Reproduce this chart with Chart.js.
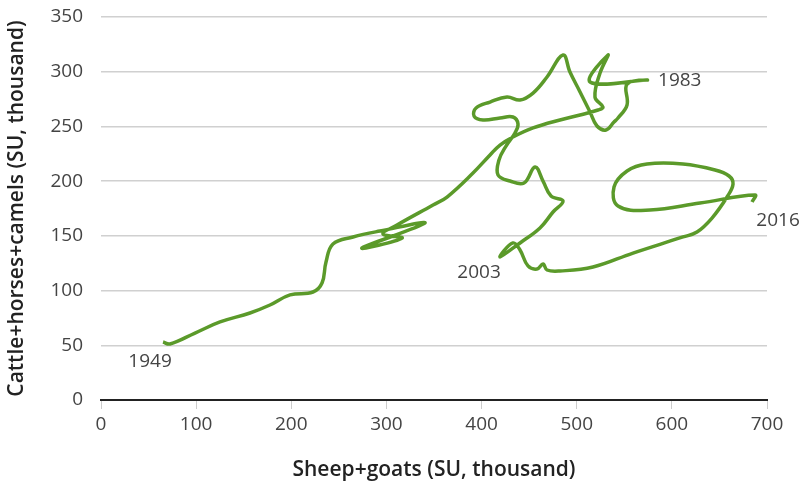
<!DOCTYPE html>
<html>
<head>
<meta charset="utf-8">
<script src="https://cdn.jsdelivr.net/npm/chart.js@4"></script>
<style>
  html, body { margin: 0; padding: 0; background: #fff; }
  #wrap { width: 803px; height: 491px; }
</style>
</head>
<body>
<div id="wrap"><canvas id="chart"></canvas></div>
<script>
// Livestock trajectory, 1949 -> 2016
const sheepGoats = [
  65.2, 72.5, 98.8, 125.1, 156.6, 177.6, 198.7, 222.8, 232.3, 236.5,
  243.8, 264.9, 293.2, 340.5, 274.3, 316.4, 296.4, 311.1, 349.0, 363.7,
  391.0, 408.9, 419.4, 433.0, 454.1, 482.4, 503.5, 522.4, 527.6, 519.2,
  524.5, 532.9, 514.0, 573.9, 552.9, 552.9, 543.4, 539.2, 530.8, 521.3,
  514.0, 503.5, 492.9, 485.6, 468.8, 454.1, 440.4, 426.7, 408.9, 394.2,
  392.1, 401.5, 419.4, 433.0, 438.3, 435.1, 425.7, 418.3, 417.3, 429.9,
  444.6, 456.2, 464.6, 473.0, 485.6, 475.1, 461.4, 440.4, 419.4, 433.0,
  440.4, 448.8, 458.3, 464.6, 468.8, 482.4, 517.1, 559.2, 611.7, 626.4,
  642.2, 658.0, 664.3, 660.1, 645.4, 611.7, 573.9, 552.9, 539.2, 543.4,
  577.0, 629.6, 687.4, 684.3
];
const cattleEtc = [
  53.0, 51.2, 61.2, 71.3, 79.5, 86.8, 96.0, 98.7, 106.9, 126.1,
  142.6, 149.0, 154.4, 161.7, 138.9, 148.0, 151.7, 159.9, 178.2, 185.5,
  207.4, 223.9, 233.0, 240.3, 248.6, 255.9, 260.4, 265.0, 267.7, 276.9,
  298.8, 315.3, 290.6, 292.4, 288.7, 269.6, 257.7, 254.0, 246.7, 250.4,
  263.2, 281.5, 299.7, 315.3, 295.2, 280.5, 274.1, 276.9, 272.3, 266.8,
  259.5, 255.9, 257.7, 258.6, 252.2, 244.0, 232.1, 219.3, 205.6, 200.1,
  198.3, 212.9, 200.1, 186.4, 181.9, 171.8, 157.2, 143.5, 130.7, 143.5,
  137.1, 122.5, 119.7, 124.3, 118.8, 117.9, 121.5, 134.3, 149.0, 153.5,
  166.3, 185.5, 197.4, 204.7, 210.2, 215.7, 215.7, 209.3, 194.6, 177.3,
  173.6, 180.0, 187.3, 180.9
];
// year labels: text, index of the point, text offset
const yearLabels = ["1949", "1983", "2003", "2016"];
const yearIndex = [0, 33, 68, 93];
const yearOffset = [[-13, 20, "center"], [11, 1, "left"], [-21, 16, "center"], [26, 19, "center"]];

const xTicks = [0, 100, 200, 300, 400, 500, 600, 700];
const yTicks = [0, 50, 100, 150, 200, 250, 300, 350];

const points = sheepGoats.map((x, i) => ({ x: x, y: cattleEtc[i] }));

const yearLabelPlugin = {
  id: "yearLabels",
  afterDatasetsDraw(chart) {
    const ctx = chart.ctx;
    const xs = chart.scales.x;
    const ys = chart.scales.y;
    ctx.save();
    ctx.font = "19px 'Open Sans'";
    ctx.fillStyle = "#444";
    ctx.textBaseline = "middle";
    yearLabels.forEach((txt, i) => {
      const p = points[yearIndex[i]];
      const off = yearOffset[i];
      ctx.textAlign = off[2];
      ctx.fillText(txt, xs.getPixelForValue(p.x) + off[0], ys.getPixelForValue(p.y) + off[1]);
    });
    ctx.restore();
  },
};

new Chart(document.getElementById("chart"), {
  type: "scatter",
  data: {
    datasets: [
      {
        data: points,
        showLine: true,
        borderColor: "#5b9a2a",
        borderWidth: 3.5,
        tension: 0.4,
        pointRadius: 0,
        fill: false,
      },
    ],
  },
  plugins: [yearLabelPlugin],
  options: {
    responsive: true,
    maintainAspectRatio: false,
    animation: false,
    layout: { padding: { top: 17, right: 36, left: 0, bottom: 0 } },
    plugins: { legend: { display: false }, tooltip: { enabled: false } },
    scales: {
      x: {
        type: "linear",
        min: 0,
        max: 700,
        afterFit: (s) => { s.height = 91; },
        afterBuildTicks: (s) => { s.ticks = xTicks.map((v) => ({ value: v })); },
        border: { display: true, color: "#222", width: 2 },
        grid: { drawOnChartArea: false, drawTicks: true, tickLength: 9, color: "#ccc", lineWidth: 1 },
        ticks: { color: "#444", font: { family: "Open Sans", size: 19 }, padding: 4 },
        title: {
          display: true,
          text: "Sheep+goats (SU, thousand)",
          color: "#222",
          font: { family: "Open Sans", size: 21, weight: "600" },
          padding: { top: 0, bottom: 8 },
        },
      },
      y: {
        type: "linear",
        min: 0,
        max: 350,
        afterFit: (s) => {
          s.width = 101;
          s.paddingTop = 0;
          s.paddingBottom = 0;
        },
        afterBuildTicks: (s) => { s.ticks = yTicks.map((v) => ({ value: v })); },
        border: { display: false },
        grid: { drawTicks: false, color: (c) => (c.tick.value === 0 ? "rgba(0,0,0,0)" : "#d0d0d0"), lineWidth: 1.5 },
        ticks: { color: "#444", font: { family: "Open Sans", size: 19 }, padding: 18 },
        title: {
          display: true,
          text: "Cattle+horses+camels (SU, thousand)",
          color: "#222",
          font: { family: "Open Sans", size: 21, weight: "600" },
          padding: { top: 4, bottom: 0 },
        },
      },
    },
  },
});
</script>
</body>
</html>
